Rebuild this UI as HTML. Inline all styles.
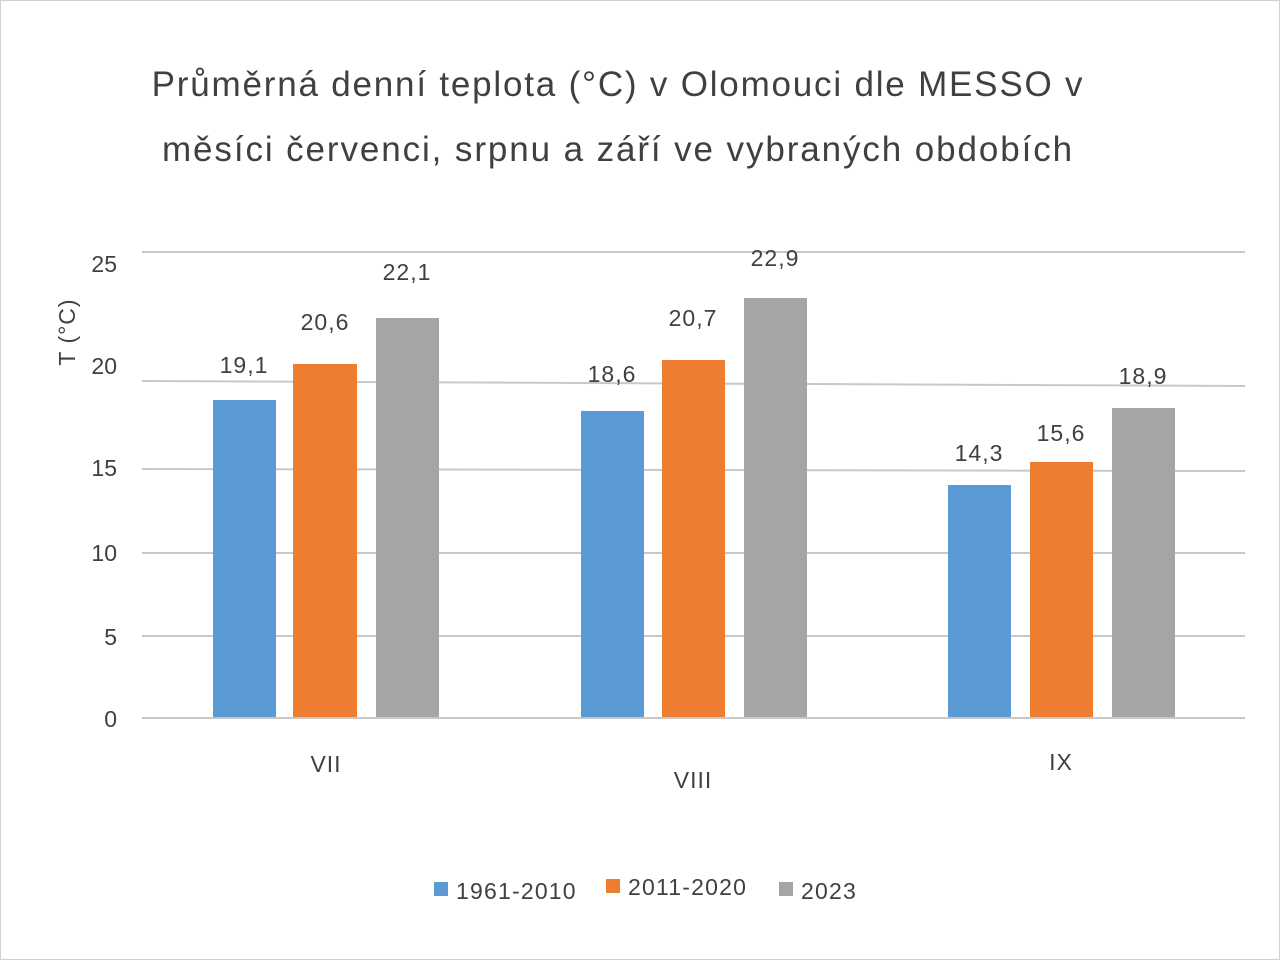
<!DOCTYPE html>
<html><head><meta charset="utf-8"><style>
html,body{margin:0;padding:0;background:#fff}
svg{display:block}
text{font-family:"Liberation Sans","DejaVu Sans",sans-serif;fill:#404040}
</style></head><body>
<svg width="1280" height="960" viewBox="0 0 1280 960">
<rect x="0.5" y="0.5" width="1279" height="959" fill="#fff" stroke="#d0d0d0"/>
<text x="618" y="96" font-size="35" text-anchor="middle" letter-spacing="1.8">Průměrná denní teplota (°C) v Olomouci dle MESSO v</text>
<text x="618" y="161" font-size="35" text-anchor="middle" letter-spacing="1.9">měsíci červenci, srpnu a září ve vybraných obdobích</text>
<g stroke="#c8c8c8" stroke-width="2">
<line x1="142" y1="252" x2="1245" y2="252"/>
<line x1="142" y1="381" x2="1245" y2="386"/>
<line x1="142" y1="469" x2="1245" y2="471"/>
<line x1="142" y1="553" x2="1245" y2="553"/>
<line x1="142" y1="636" x2="1245" y2="636"/>
<line x1="142" y1="718" x2="1245" y2="718"/>
</g>
<g font-size="23" text-anchor="end">
<text x="117" y="272">25</text>
<text x="117" y="374">20</text>
<text x="117" y="476">15</text>
<text x="117" y="561">10</text>
<text x="117" y="645">5</text>
<text x="117" y="727">0</text>
</g>
<text transform="translate(75,332) rotate(-90)" font-size="23" text-anchor="middle" letter-spacing="1">T (°C)</text>
<g>
<rect x="213" y="400" width="63" height="318" fill="#5b9bd5"/>
<rect x="293" y="364" width="64" height="354" fill="#ed7d31"/>
<rect x="376" y="318" width="63" height="400" fill="#a5a5a5"/>
<rect x="581" y="411" width="63" height="307" fill="#5b9bd5"/>
<rect x="662" y="360" width="63" height="358" fill="#ed7d31"/>
<rect x="744" y="298" width="63" height="420" fill="#a5a5a5"/>
<rect x="948" y="485" width="63" height="233" fill="#5b9bd5"/>
<rect x="1030" y="462" width="63" height="256" fill="#ed7d31"/>
<rect x="1112" y="408" width="63" height="310" fill="#a5a5a5"/>
</g>
<line x1="142" y1="718" x2="1245" y2="718" stroke="#c8c8c8" stroke-width="2"/>
<g font-size="23" text-anchor="middle" letter-spacing="1">
<text x="244" y="373">19,1</text>
<text x="325" y="330">20,6</text>
<text x="407" y="280">22,1</text>
<text x="612" y="382">18,6</text>
<text x="693" y="326">20,7</text>
<text x="775" y="266">22,9</text>
<text x="979" y="461">14,3</text>
<text x="1061" y="441">15,6</text>
<text x="1143" y="384">18,9</text>
<text x="326" y="772">VII</text>
<text x="693" y="788">VIII</text>
<text x="1061" y="770">IX</text>
</g>
<g font-size="23" letter-spacing="1.2">
<rect x="434" y="882" width="14" height="14" fill="#5b9bd5"/>
<text x="456" y="899">1961-2010</text>
<rect x="606" y="879" width="14" height="14" fill="#ed7d31"/>
<text x="628" y="895">2011-2020</text>
<rect x="779" y="882" width="14" height="14" fill="#a5a5a5"/>
<text x="801" y="899">2023</text>
</g>
</svg>
</body></html>
